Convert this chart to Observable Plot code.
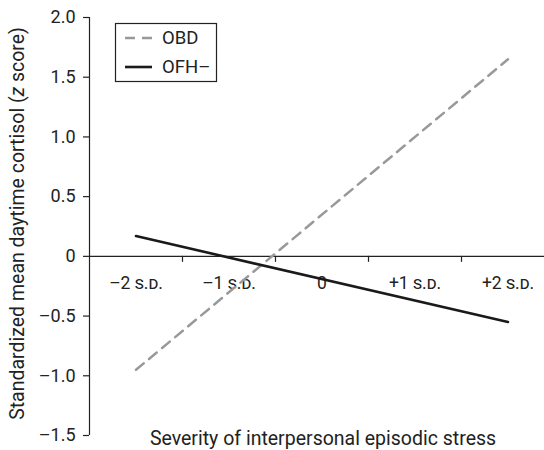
<!DOCTYPE html>
<html>
<head>
<meta charset="utf-8">
<script src="https://cdn.jsdelivr.net/npm/d3@7"></script>
<script src="https://cdn.jsdelivr.net/npm/@observablehq/plot@0.6"></script>
<style>
  body { margin: 0; background: #fff; }
  #wrap { position: relative; width: 544px; height: 450px; font-family: Roboto, sans-serif; }
  #legend { position: absolute; left: 0; top: 0; }
</style>
</head>
<body>
<div id="wrap"></div>
<script>
// Data
const stressLevels = [-2, 2];
const obdValues = [-0.95, 1.65];
const ofhValues = [0.17, -0.55];
const seriesNames = ["OBD", "OFH–"];
const xTickValues = [-2, -1, 0, 1, 2];
const xTickLabels = ["–2 s.d.", "–1 s.d.", "0", "+1 s.d.", "+2 s.d."];
const xBoundaries = [-1.5, -0.5, 0.5, 1.5];
const yTickValues = [-1.5, -1, -0.5, 0, 0.5, 1, 1.5, 2];
const yLabel = "Standardized mean daytime cortisol (z score)";
const xLabel = "Severity of interpersonal episodic stress";

const obdData = stressLevels.map((x, i) => ({x, y: obdValues[i]}));
const ofhData = stressLevels.map((x, i) => ({x, y: ofhValues[i]}));
const xTicks = xTickValues.map((v, i) => ({v, label: xTickLabels[i]}));

const W = 544, H = 450, mL = 89, mR = 0, mT = 17, mB = 15;
const yDomain = [-1.5, 2];
const innerH = H - mT - mB;
const zeroOffset = innerH * (0 - yDomain[0]) / (yDomain[1] - yDomain[0]);

const ink = "#222";
const font = "Roboto, sans-serif";
const fmtY = d => d === 0 ? "0" : (d < 0 ? "–" : "") + Math.abs(d).toFixed(1);

const plot = Plot.plot({
  width: W, height: H,
  marginLeft: mL, marginRight: mR, marginTop: mT, marginBottom: mB,
  style: {fontFamily: font, color: ink, background: "#fff"},
  x: {domain: [-2.5, -2.5 + (W - mL - mR) / 93], axis: null},
  y: {domain: yDomain, axis: null},
  marks: [
    Plot.axisY({ticks: yTickValues, tickFormat: fmtY, tickSize: 6, tickPadding: 8, fontSize: 18, label: null, stroke: ink, strokeWidth: 1.2}),
    Plot.ruleX([-2.5], {stroke: ink, strokeWidth: 1.2}),
    Plot.ruleY([0], {stroke: ink, strokeWidth: 1.2}),
    Plot.axisX({ticks: xBoundaries, tickFormat: () => "", tickSize: 6, anchor: "bottom", dy: -zeroOffset, label: null, stroke: ink, strokeWidth: 1.2}),
    Plot.text(xTicks, {x: "v", y: () => 0, dy: 27, text: "label", fontSize: 17.5, fontVariant: "small-caps", fill: ink}),
    Plot.text([yLabel], {frameAnchor: "left", textAnchor: "middle", rotate: -90, dx: -72, dy: -3, fontSize: 19.5, fill: ink}),
    Plot.text([xLabel], {frameAnchor: "bottom", dx: 6, dy: 3, lineAnchor: "middle", fontSize: 19.5, fill: ink}),
    Plot.line(obdData, {x: "x", y: "y", stroke: "#999", strokeWidth: 2.5, strokeDasharray: "10,7"}),
    Plot.line(ofhData, {x: "x", y: "y", stroke: "#1a1a1a", strokeWidth: 2.6})
  ]
});

// italic z in y label
d3.select(plot).selectAll("text").each(function() {
  const t = d3.select(this);
  if (t.text() === yLabel) {
    t.text(null);
    t.append("tspan").text("Standardized mean daytime cortisol (");
    t.append("tspan").attr("font-style", "italic").text("z");
    t.append("tspan").text(" score)");
  }
});

const wrap = document.getElementById("wrap");
wrap.appendChild(plot);

// Legend overlay
const leg = d3.select(wrap).append("svg").attr("id", "legend")
  .attr("width", W).attr("height", 100)
  .style("font-family", font);
leg.append("rect").attr("x", 115.5).attr("y", 23.5).attr("width", 101).attr("height", 58)
  .attr("fill", "#fff").attr("stroke", ink).attr("stroke-width", 1.2);
const legStyles = [
  {stroke: "#999", dash: "10,7", width: 2.5},
  {stroke: "#1a1a1a", dash: null, width: 2.6}
];
seriesNames.forEach((name, i) => {
  const cy = 38 + i * 29;
  leg.append("line").attr("x1", 125).attr("x2", 152).attr("y1", cy).attr("y2", cy)
    .attr("stroke", legStyles[i].stroke).attr("stroke-width", legStyles[i].width)
    .attr("stroke-dasharray", legStyles[i].dash);
  leg.append("text").attr("x", 162).attr("y", cy).attr("dy", "0.35em")
    .attr("font-size", 18.5).attr("fill", ink).text(name);
});
</script>
</body>
</html>
